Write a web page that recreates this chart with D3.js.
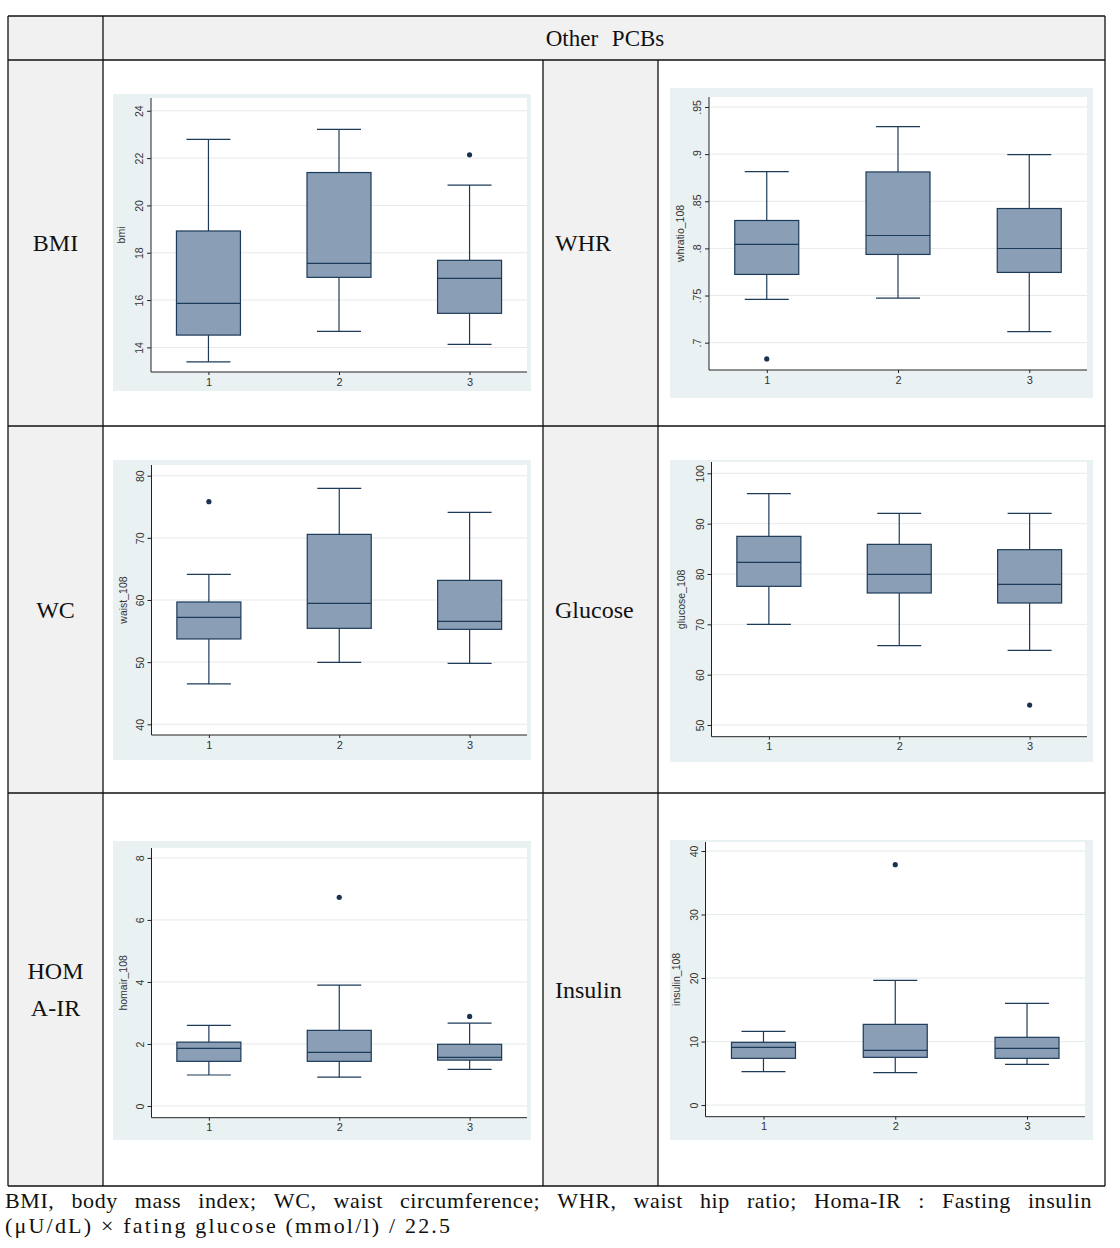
<!DOCTYPE html>
<html><head><meta charset="utf-8">
<script src="https://cdn.jsdelivr.net/npm/d3@7"></script>
<style>body{margin:0;background:#fff}</style>
</head><body><svg id="c" width="1120" height="1248"></svg>
<script>
// ---------------- DATA ----------------
const groups = ["1", "2", "3"];
const headerWords = ["Other", "PCBs"];
const rowLabels = [["BMI"], ["WHR"], ["WC"], ["Glucose"], ["HOM", "A-IR"], ["Insulin"]];
const axisTitles = ["bmi", "whratio_108", "waist_108", "glucose_108", "homair_108", "insulin_108"];

// each group: [lower whisker, Q1, median, Q3, upper whisker]
const bmiStats = [[13.39, 14.52, 15.86, 18.92, 22.79], [14.68, 16.96, 17.55, 21.39, 23.21], [14.13, 15.44, 16.92, 17.68, 20.86]];
const bmiOutliers = [[], [], [22.14]];
const bmiTicks = [14, 16, 18, 20, 22, 24];
const bmiTickLabels = ["14", "16", "18", "20", "22", "24"];

const whrStats = [[0.7459, 0.7724, 0.8042, 0.8296, 0.8815], [0.7473, 0.7936, 0.8137, 0.8811, 0.9292], [0.7117, 0.7745, 0.7999, 0.8423, 0.8995]];
const whrOutliers = [[0.6827], [], []];
const whrTicks = [0.7, 0.75, 0.8, 0.85, 0.9, 0.95];
const whrTickLabels = [".7", ".75", ".8", ".85", ".9", ".95"];

const wcStats = [[46.49, 53.73, 57.21, 59.68, 64.13], [49.97, 55.44, 59.46, 70.56, 77.96], [49.81, 55.28, 56.57, 63.16, 74.1]];
const wcOutliers = [[75.82], [], []];
const wcTicks = [40, 50, 60, 70, 80];
const wcTickLabels = ["40", "50", "60", "70", "80"];

const glucoseStats = [[70, 77.55, 82.32, 87.48, 95.96], [65.76, 76.23, 79.93, 85.89, 92.05], [64.83, 74.24, 77.95, 84.83, 92.05]];
const glucoseOutliers = [[], [], [53.97]];
const glucoseTicks = [50, 60, 70, 80, 90, 100];
const glucoseTickLabels = ["50", "60", "70", "80", "90", "100"];

const homaStats = [[1.0, 1.44, 1.86, 2.06, 2.6], [0.93, 1.44, 1.73, 2.44, 3.9], [1.18, 1.48, 1.57, 1.99, 2.67]];
const homaOutliers = [[], [6.73], [2.89]];
const homaTicks = [0, 2, 4, 6, 8];
const homaTickLabels = ["0", "2", "4", "6", "8"];

const insulinStats = [[5.25, 7.35, 9.08, 9.87, 11.6], [5.09, 7.51, 8.61, 12.7, 19.63], [6.4, 7.35, 8.92, 10.66, 16.01]];
const insulinOutliers = [[], [37.85], []];
const insulinTicks = [0, 10, 20, 30, 40];
const insulinTickLabels = ["0", "10", "20", "30", "40"];

const footLine1 = "BMI, body mass index; WC, waist circumference; WHR, waist hip ratio; Homa-IR : Fasting insulin";
const footLine2 = "(\u03bcU/dL) \u00d7 fating glucose (mmol/l) / 22.5";

// ---------------- LAYOUT ----------------
const svg = d3.select("#c");
const serif = "'Liberation Serif','DejaVu Serif',serif";
const sans = "'Liberation Sans',Arial,sans-serif";
const colX = [8, 103, 543, 658, 1105];
const rowY = [16, 60, 426, 793, 1186];
const cellGray = "#f1f1f1";

// cell backgrounds
svg.append("rect").attr("x", colX[0]).attr("y", rowY[0]).attr("width", colX[4] - colX[0]).attr("height", rowY[1] - rowY[0]).attr("fill", cellGray);
[[colX[0], colX[1]], [colX[2], colX[3]]].forEach(([a, b]) => {
  svg.append("rect").attr("x", a).attr("y", rowY[1]).attr("width", b - a).attr("height", rowY[4] - rowY[1]).attr("fill", cellGray);
});

// header
svg.append("text").attr("x", (colX[1] + colX[4]) / 2 + 1).attr("y", 46).attr("text-anchor", "middle")
  .attr("font-family", serif).attr("font-size", 23).attr("fill", "#111").attr("word-spacing", 8)
  .text(headerWords.join(" "));

// row labels
const labelPos = [
  { x: 55.5, anchor: "middle", row: 0 }, { x: 555, anchor: "start", row: 0 },
  { x: 55.5, anchor: "middle", row: 1 }, { x: 555, anchor: "start", row: 1 },
  { x: 55.5, anchor: "middle", row: 2 }, { x: 555, anchor: "start", row: 2 }
];
rowLabels.forEach((lines, i) => {
  const p = labelPos[i];
  const cy = (rowY[p.row + 1] + rowY[p.row + 2]) / 2;
  const lh = 37;
  lines.forEach((t, j) => {
    svg.append("text").attr("x", p.x).attr("y", cy + 8 + (j - (lines.length - 1) / 2) * lh)
      .attr("text-anchor", p.anchor).attr("font-family", serif).attr("font-size", 24).attr("fill", "#111").text(t);
  });
});

// panels
const panels = [
  { stats: bmiStats, out: bmiOutliers, ticks: bmiTicks, labels: bmiTickLabels, title: axisTitles[0],
    bg: [113, 94, 531, 391], plot: [151, 98, 527, 372], domain: [12.96, 24.54], titleX: 125 },
  { stats: whrStats, out: whrOutliers, ticks: whrTicks, labels: whrTickLabels, title: axisTitles[1],
    bg: [670, 88, 1093, 398], plot: [709, 97, 1087, 370], domain: [0.671, 0.9606], titleX: 684 },
  { stats: wcStats, out: wcOutliers, ticks: wcTicks, labels: wcTickLabels, title: axisTitles[2],
    bg: [113, 460, 531, 760], plot: [151.5, 465, 527, 735], domain: [38.28, 81.72], titleX: 127 },
  { stats: glucoseStats, out: glucoseOutliers, ticks: glucoseTicks, labels: glucoseTickLabels, title: axisTitles[3],
    bg: [670, 460, 1093, 762], plot: [711.5, 462, 1087, 736.7], domain: [47.68, 102.25], titleX: 685 },
  { stats: homaStats, out: homaOutliers, ticks: homaTicks, labels: homaTickLabels, title: axisTitles[4],
    bg: [113, 841, 531, 1140], plot: [151.5, 848, 527, 1117.7], domain: [-0.377, 8.32], titleX: 127 },
  { stats: insulinStats, out: insulinOutliers, ticks: insulinTicks, labels: insulinTickLabels, title: axisTitles[5],
    bg: [670, 840, 1093, 1140], plot: [705.5, 842, 1085, 1116.7], domain: [-1.84, 41.42], titleX: 680 }
];

const boxFill = "#8a9fb6", boxStroke = "#1d3a58", axisCol = "#222";

panels.forEach(p => {
  const g = svg.append("g");
  const [bx0, by0, bx1, by1] = p.bg, [px0, py0, px1, py1] = p.plot;
  g.append("rect").attr("x", bx0).attr("y", by0).attr("width", bx1 - bx0).attr("height", by1 - by0).attr("fill", "#eaf1f3");
  g.append("rect").attr("x", px0).attr("y", py0).attr("width", px1 - px0).attr("height", py1 - py0).attr("fill", "#fff");
  const y = d3.scaleLinear().domain(p.domain).range([py1, py0]);
  const x = d3.scalePoint().domain(groups).range([px0, px1]).padding(0.44);

  // gridlines
  g.selectAll(".grid").data(p.ticks).join("line")
    .attr("x1", px0).attr("x2", px1).attr("y1", d => y(d)).attr("y2", d => y(d))
    .attr("stroke", "#e6eaea").attr("stroke-width", 1);

  // y axis
  const ya = g.append("g").attr("transform", `translate(${px0},0)`)
    .call(d3.axisLeft(y).tickValues(p.ticks).tickFormat((d, i) => p.labels[i]).tickSize(4).tickSizeOuter(0));
  ya.select(".domain").attr("stroke", axisCol).attr("d", `M0,${py0}V${py1}`);
  ya.selectAll(".tick line").attr("stroke", axisCol);
  ya.selectAll(".tick text").attr("transform", "rotate(-90)").attr("x", 0).attr("y", -8).attr("dy", 0)
    .attr("text-anchor", "middle").attr("font-family", sans).attr("font-size", 10.5).attr("fill", "#333");

  // x axis
  const xa = g.append("g").attr("transform", `translate(0,${py1})`)
    .call(d3.axisBottom(x).tickSize(3).tickSizeOuter(0));
  xa.select(".domain").attr("stroke", axisCol).attr("d", `M${px0},0H${px1}`);
  xa.selectAll(".tick line").attr("stroke", axisCol);
  xa.selectAll(".tick text").attr("font-family", sans).attr("font-size", 11).attr("fill", "#333").attr("y", 6);

  // axis title
  g.append("text").attr("transform", `translate(${p.titleX},${(py0 + py1) / 2}) rotate(-90)`)
    .attr("text-anchor", "middle").attr("font-family", sans).attr("font-size", 10.5).attr("fill", "#333").text(p.title);

  // boxes
  const boxW = 64, capW = 44;
  groups.forEach((gName, i) => {
    const [lw, q1, med, q3, uw] = p.stats[i];
    const cx = x(gName);
    const bg2 = g.append("g");
    bg2.append("line").attr("x1", cx).attr("x2", cx).attr("y1", y(uw)).attr("y2", y(q3)).attr("stroke", boxStroke).attr("stroke-width", 1.2);
    bg2.append("line").attr("x1", cx).attr("x2", cx).attr("y1", y(q1)).attr("y2", y(lw)).attr("stroke", boxStroke).attr("stroke-width", 1.2);
    bg2.append("line").attr("x1", cx - capW / 2).attr("x2", cx + capW / 2).attr("y1", y(uw)).attr("y2", y(uw)).attr("stroke", boxStroke).attr("stroke-width", 1.2);
    bg2.append("line").attr("x1", cx - capW / 2).attr("x2", cx + capW / 2).attr("y1", y(lw)).attr("y2", y(lw)).attr("stroke", boxStroke).attr("stroke-width", 1.2);
    bg2.append("rect").attr("x", cx - boxW / 2).attr("y", y(q3)).attr("width", boxW).attr("height", y(q1) - y(q3))
      .attr("fill", boxFill).attr("stroke", boxStroke).attr("stroke-width", 1.2);
    bg2.append("line").attr("x1", cx - boxW / 2).attr("x2", cx + boxW / 2).attr("y1", y(med)).attr("y2", y(med)).attr("stroke", boxStroke).attr("stroke-width", 1.2);
    bg2.selectAll("circle").data(p.out[i]).join("circle")
      .attr("cx", cx).attr("cy", d => y(d)).attr("r", 2.6).attr("fill", "#1a3350");
  });
});

// table lines
const lineCol = "#111", lw = 1.3;
rowY.forEach(yy => svg.append("line").attr("x1", colX[0]).attr("x2", colX[4]).attr("y1", yy).attr("y2", yy).attr("stroke", lineCol).attr("stroke-width", lw));
[colX[0], colX[1], colX[4]].forEach(xx => svg.append("line").attr("x1", xx).attr("x2", xx).attr("y1", rowY[0]).attr("y2", rowY[4]).attr("stroke", lineCol).attr("stroke-width", lw));
[colX[2], colX[3]].forEach(xx => svg.append("line").attr("x1", xx).attr("x2", xx).attr("y1", rowY[1]).attr("y2", rowY[4]).attr("stroke", lineCol).attr("stroke-width", lw));

// footer (line 1 justified)
const fSize = 22, fSpacing = 0.6;
const words = footLine1.split(" ");
const fx0 = 5, fx1 = 1092;
const tmp = words.map(w => svg.append("text").attr("font-family", serif).attr("font-size", fSize)
  .attr("letter-spacing", fSpacing).attr("fill", "#111").attr("y", 1208).text(w));
const widths = tmp.map(t => t.node().getBBox().width);
const total = d3.sum(widths);
const gap = (fx1 - fx0 - total) / (words.length - 1);
let cx = fx0;
tmp.forEach((t, i) => { t.attr("x", cx); cx += widths[i] + gap; });
svg.append("text").attr("x", fx0).attr("y", 1233).attr("font-family", serif).attr("font-size", fSize)
  .attr("fill", "#111").attr("textLength", 445).attr("lengthAdjust", "spacing").text(footLine2);
</script>
</body></html>
